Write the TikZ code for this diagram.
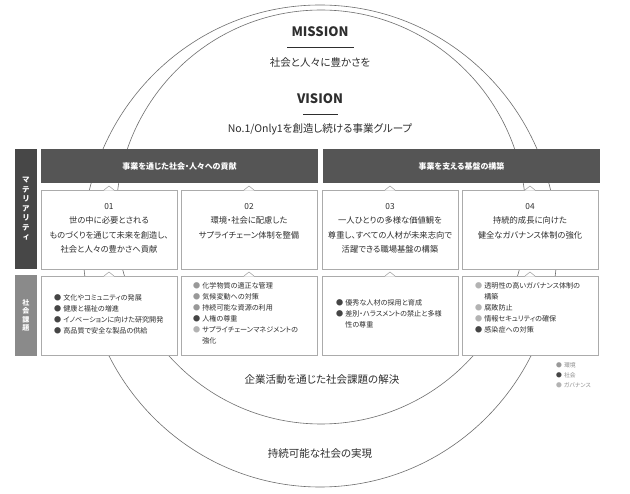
\documentclass[tikz,border=0pt]{standalone}
\usepackage{fontspec}
\setmainfont{Noto Sans CJK JP}[RawFeature=+palt]
\usepackage{xcolor}
\definecolor{HeadGray}{HTML}{555555}
\definecolor{MatBar}{HTML}{474747}
\definecolor{IssueBar}{HTML}{8A8A8A}
\definecolor{BoxLine}{HTML}{ABABAB}
\definecolor{RingGray}{HTML}{6E6E6E}
\definecolor{TextDark}{HTML}{2E2E2E}
\definecolor{EnvDot}{HTML}{999999}
\definecolor{SocDot}{HTML}{454545}
\definecolor{GovDot}{HTML}{B3B3B3}
\definecolor{LegendGray}{HTML}{8C8C8C}
\usepackage{tikz}
\usetikzlibrary{positioning, calc}
\tikzset{
  % Ring styles
  ring/.style={draw=RingGray, line width=0.6pt},
  % Box styles
  headbar/.style={rectangle, fill=HeadGray, text=white, minimum width=277pt, minimum height=34pt, inner sep=0pt, font=\fontsize{8}{10}\selectfont\bfseries},
  sidebar/.style={rectangle, text=white, minimum width=22pt, inner sep=0pt, align=center},
  goalbox/.style={rectangle, draw=BoxLine, fill=white, line width=0.6pt, minimum width=136pt, minimum height=79pt, inner sep=0pt, outer sep=0pt},
  % Text styles
  goaltext/.style={align=center, inner sep=0pt, text=TextDark, font=\fontsize{8.3}{14.5}\selectfont},
  issuetext/.style={align=left, inner sep=0pt, text=TextDark, font=\fontsize{7.1}{11}\selectfont},
  titletext/.style={font=\fontsize{13}{15}\selectfont\bfseries, text=TextDark},
  bigtext/.style={font=\fontsize{10.5}{12}\selectfont, text=TextDark},
  legendtext/.style={align=left, text=LegendGray, font=\fontsize{5.8}{10}\selectfont, inner sep=0pt},
  % Line styles
  rule/.style={draw=TextDark, line width=0.7pt},
  notch/.style={draw=BoxLine, line width=0.6pt}
}
\newcommand{\envitem}{\textcolor{EnvDot}{●}\hspace{2pt}}
\newcommand{\socitem}{\textcolor{SocDot}{●}\hspace{2pt}}
\newcommand{\govitem}{\textcolor{GovDot}{●}\hspace{2pt}}
\newcommand{\itemgap}{\phantom{●}\hspace{2pt}}

\begin{document}
\begin{tikzpicture}[x=1pt, y=-1pt]
  \fill[white] (0,0) rectangle (630,494);
  \useasboundingbox (0,0) rectangle (630,494);

  % Rings
  \draw[ring] (320,246) ellipse [x radius=237, y radius=241];
  \draw[ring] (321,217) ellipse [x radius=205, y radius=207];

  % Mission and vision
  \node[titletext] (mission) at (320,32) {MISSION};
  \node[bigtext] (missiontxt) at (320,63) {社会と人々に豊かさを};
  \node[titletext] (vision) at (320,99) {VISION};
  \node[bigtext] (visiontxt) at (320,129) {No.1/Only1を創造し続ける事業グループ};
  \draw[rule] ([xshift=-33pt,yshift=-7pt]mission.south) -- ++(67,0);
  \draw[rule] ([xshift=-17pt,yshift=-7pt]vision.south) -- ++(35,0);

  % Side labels
  \node[sidebar, fill=MatBar, minimum height=120pt, font=\fontsize{7.5}{9.5}\selectfont\bfseries] (matlabel) at (26,209) {マ\\テ\\リ\\ア\\リ\\テ\\ィ};
  \node[sidebar, fill=IssueBar, minimum height=81pt, font=\fontsize{7}{8.5}\selectfont\bfseries] (issuelabel) at (26,315.5) {社\\会\\課\\題};

  % Headers
  \node[headbar] (head1) at (179.5,166) {事業を通じた社会・人々への貢献};
  \node[headbar] (head2) at (461.5,166) {事業を支える基盤の構築};

  % Materiality boxes
  \node[goalbox] (m1) at (109,229.5) {};
  \node[goalbox, right=4pt of m1] (m2) {};
  \node[goalbox, right=5pt of m2] (m3) {};
  \node[goalbox, right=4pt of m3] (m4) {};

  % Issue boxes
  \node[goalbox, below=7pt of m1] (s1) {};
  \node[goalbox, below=7pt of m2] (s2) {};
  \node[goalbox, below=7pt of m3] (s3) {};
  \node[goalbox, below=7pt of m4] (s4) {};

  \foreach \b in {m1,m2,m3,m4,s1,s2,s3,s4}{
    \fill[white] ([xshift=-5pt,yshift=-0.6pt]\b.north) -- ([yshift=4pt]\b.north) -- ([xshift=5pt,yshift=-0.6pt]\b.north) -- cycle;
    \draw[notch] ([xshift=-5pt]\b.north) -- ([yshift=4pt]\b.north) -- ([xshift=5pt]\b.north);
  }

  % Materiality texts
  \node[goaltext, below=13pt of m1.north] (m1t) {01\\世の中に必要とされる\\ものづくりを通じて未来を創造し、\\社会と人々の豊かさへ貢献};
  \node[goaltext, below=13pt of m2.north] (m2t) {02\\環境・社会に配慮した\\サプライチェーン体制を整備};
  \node[goaltext, below=13pt of m3.north] (m3t) {03\\一人ひとりの多様な価値観を\\尊重し、すべての人材が未来志向で\\活躍できる職場基盤の構築};
  \node[goaltext, below=13pt of m4.north] (m4t) {04\\持続的成長に向けた\\健全なガバナンス体制の強化};

  % Issue texts
  \node[issuetext, below right=18pt and 13pt of s1.north west] (s1t) {\socitem 文化やコミュニティの発展\\\socitem 健康と福祉の増進\\\socitem イノベーションに向けた研究開発\\\socitem 高品質で安全な製品の供給};
  \node[issuetext, below right=6.5pt and 12pt of s2.north west] (s2t) {\envitem 化学物質の適正な管理\\\envitem 気候変動への対策\\\envitem 持続可能な資源の利用\\\socitem 人権の尊重\\\govitem サプライチェーンマネジメントの\\\itemgap 強化};
  \node[issuetext, below right=23.5pt and 14pt of s3.north west] (s3t) {\socitem 優秀な人材の採用と育成\\\socitem 差別・ハラスメントの禁止と多様\\\itemgap 性の尊重};
  \node[issuetext, below right=6.5pt and 13pt of s4.north west] (s4t) {\govitem 透明性の高いガバナンス体制の\\\itemgap 構築\\\govitem 腐敗防止\\\govitem 情報セキュリティの確保\\\socitem 感染症への対策};

  % Legend
  \node[legendtext, anchor=west] (legend) at (556,375) {\textcolor{EnvDot}{●}\hspace{2pt}環境\\\textcolor{SocDot}{●}\hspace{2pt}社会\\\textcolor{GovDot}{●}\hspace{2pt}ガバナンス};

  % Outcomes
  \node[bigtext] (solve) at (322,380) {企業活動を通じた社会課題の解決};
  \node[bigtext] (sustain) at (320,454) {持続可能な社会の実現};
\end{tikzpicture}
\end{document}
